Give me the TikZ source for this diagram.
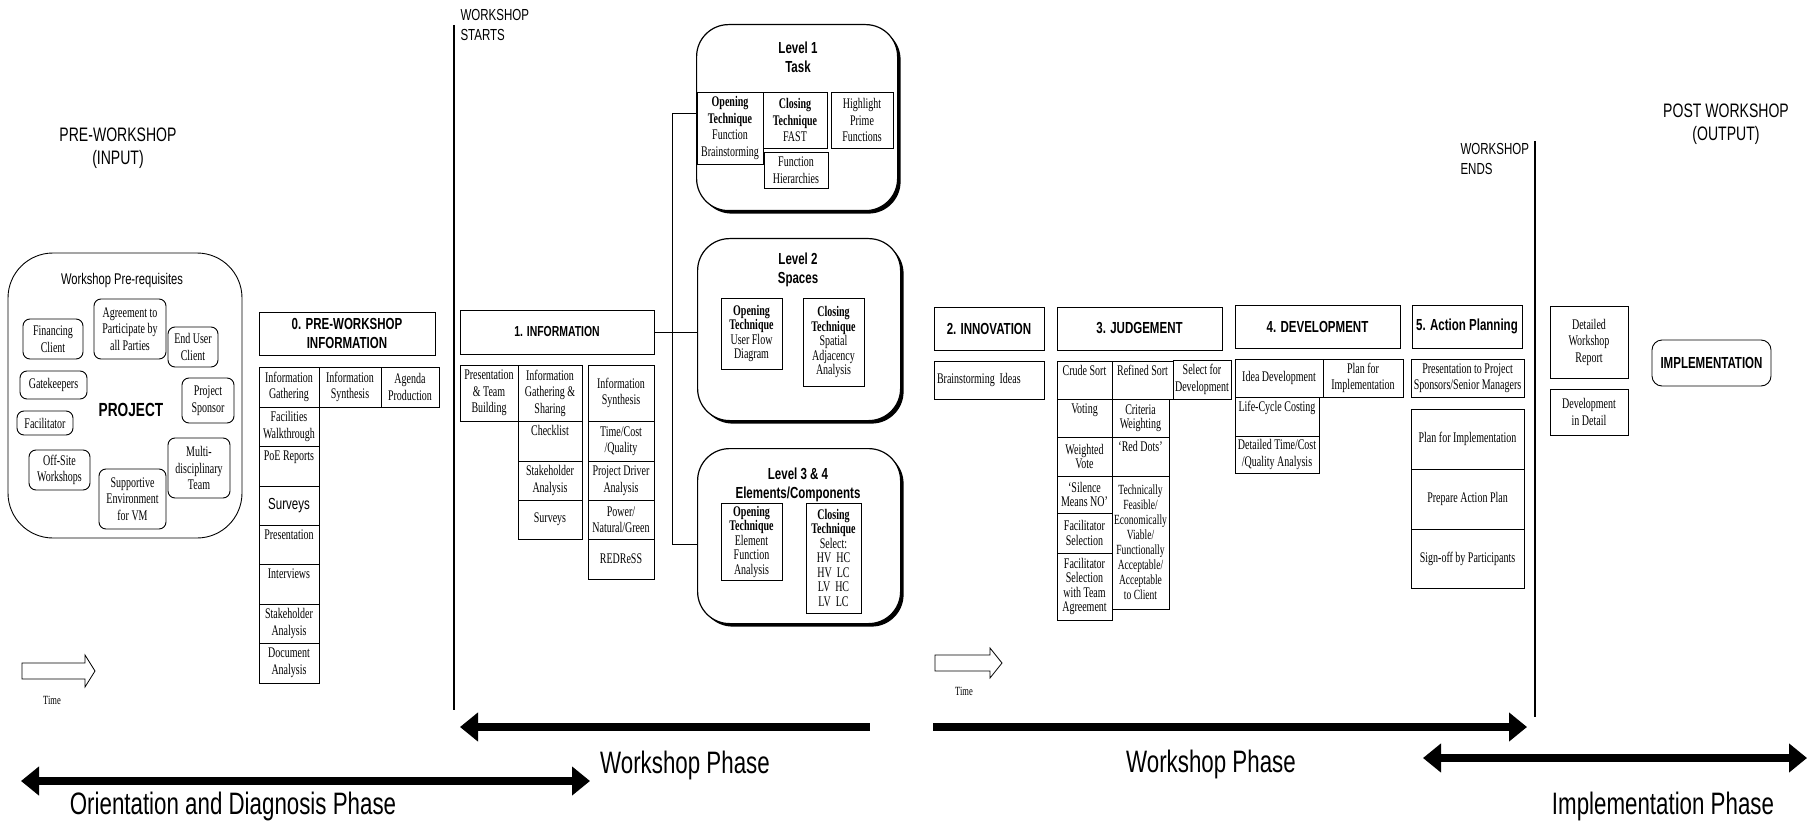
\documentclass[tikz,border=0pt]{standalone}
\usepackage{fontspec}
\setmainfont{Liberation Serif}[FakeStretch=0.68]
\setsansfont{Liberation Sans}[FakeStretch=0.72]
\usetikzlibrary{arrows.meta,shadows}

\tikzset{
  wh/.style 2 args={minimum width=#1pt, minimum height=#2pt},
  cellbox/.style={draw, line width=0.9pt, anchor=north west, align=center,
    inner sep=1pt, outer sep=0pt, font=\fontsize{14.7}{16.5}\selectfont},
  tight/.style={font=\fontsize{14.7}{14.5}\selectfont},
  topline/.style={text height=13pt, text depth=#1pt},
  stagehead/.style={cellbox, font=\sffamily\bfseries\fontsize{16}{19}\selectfont},
  req/.style={cellbox, rounded corners=7pt},
  lvbox/.style={draw, line width=1.2pt, anchor=north west, rounded corners=32pt,
    fill=white, drop shadow={shadow xshift=3pt, shadow yshift=-3pt, fill=black, opacity=1}},
  ltitle/.style={align=center, font=\sffamily\bfseries\fontsize{16}{19}\selectfont},
  stamp/.style={align=left, font=\sffamily\fontsize{16}{20}\selectfont},
  phase/.style={font=\sffamily\fontsize{31}{36}\selectfont},
  phasebar/.style={line width=8.5pt, >={Triangle[length=18pt, width=28pt]}},
}

\begin{document}
\begin{tikzpicture}[x=1pt, y=-1pt]
    \useasboundingbox (0,0) rectangle (1814,826);

    % Pre-workshop input
    \node[stamp, align=center, font=\sffamily\fontsize{19.5}{23}\selectfont] (pretitle) at (118,148) {PRE-WORKSHOP\\(INPUT)};
    \node[req, rounded corners=45pt, wh={234}{285}] (prereq) at (8,253) {};
    \node[font=\sffamily\fontsize{15.5}{18}\selectfont] (prereqt) at (122,280) {Workshop Pre-requisites};
    \node[font=\sffamily\bfseries\fontsize{19}{22}\selectfont] (project) at (131,410) {PROJECT};
    \node[req, wh={60}{40}] (fin) at (23,319) {Financing\\Client};
    \node[req, wh={72}{60}] (agr) at (94,299) {Agreement to\\Participate by\\all Parties};
    \node[req, wh={50}{40}] (endu) at (168,327) {End User\\Client};
    \node[req, wh={67}{28}] (gate) at (20,371) {Gatekeepers};
    \node[req, wh={56}{24}] (facil) at (17,411) {Facilitator};
    \node[req, wh={52}{45}] (spons) at (182,378) {Project\\Sponsor};
    \node[req, wh={62}{60}] (multi) at (168,438) {Multi-\\disciplinary\\Team};
    \node[req, wh={61}{40}] (offs) at (29,450) {Off-Site\\Workshops};
    \node[req, wh={67}{60}] (supp) at (99,469) {Supportive\\Environment\\for VM};

    % Time arrows
    \draw[line width=0.8pt] (22,663) -- (85,663) -- (85,655) -- (95,671) -- (85,687) -- (85,679) -- (22,679) -- cycle;
    \node[font=\fontsize{12.5}{14}\selectfont] (timeA) at (52,700) {Time};
    \draw[line width=0.8pt] (935,655) -- (990,655) -- (990,648) -- (1002,663) -- (990,678) -- (990,671) -- (935,671) -- cycle;
    \node[font=\fontsize{12.5}{14}\selectfont] (timeB) at (964,691) {Time};

    % 0. Pre-workshop information
    \node[stagehead, wh={176}{43}] (pre) at (259,312) {0. PRE-WORKSHOP\\INFORMATION};
    \node[cellbox, wh={60}{40}] (pgath) at (259,367) {Information\\Gathering};
    \node[cellbox, wh={62}{40}] (psyn) at (pgath.north east) {Information\\Synthesis};
    \node[cellbox, wh={58}{40}] (pagen) at (psyn.north east) {Agenda\\Production};
    \node[cellbox, wh={60}{39}] (pfac) at (pgath.south west) {Facilities\\Walkthrough};
    \node[cellbox, wh={60}{40}, topline=24] (ppoe) at (pfac.south west) {PoE Reports};
    \node[cellbox, wh={60}{39}, font=\sffamily\fontsize{16}{19}\selectfont] (psurv) at (ppoe.south west) {Surveys};
    \node[cellbox, wh={60}{39}, topline=23] (ppres) at (psurv.south west) {Presentation};
    \node[cellbox, wh={60}{40}, topline=24] (pint) at (ppres.south west) {Interviews};
    \node[cellbox, wh={60}{39}] (pstake) at (pint.south west) {Stakeholder\\Analysis};
    \node[cellbox, wh={60}{40}] (pdoc) at (pstake.south west) {Document\\Analysis};

    % Workshop starts / ends
    \node[stamp, anchor=north west] (wstart) at (457,6) {WORKSHOP\\STARTS};
    \draw[line width=2pt] (454,25) -- (454,710);
    \node[stamp, anchor=north west] (wend) at (1457,140) {WORKSHOP\\ENDS};
    \draw[line width=2pt] (1535,141) -- (1535,717);

    % 1. Information
    \node[stagehead, wh={194}{44}, font=\sffamily\bfseries\fontsize{14.5}{18}\selectfont] (info) at (460,310) {1. INFORMATION};
    \node[cellbox, wh={58}{56}] (ipres) at (460,365) {Presentation\\\& Team\\Building};
    \node[cellbox, wh={64}{56}] (igath) at (ipres.north east) {Information\\Gathering \&\\Sharing};
    \node[cellbox, wh={64}{40}, topline=24] (icheck) at (igath.south west) {Checklist};
    \node[cellbox, wh={64}{39}] (istake) at (icheck.south west) {Stakeholder\\Analysis};
    \node[cellbox, wh={64}{39}] (isurv) at (istake.south west) {Surveys};
    \node[cellbox, wh={66}{56}] (isyn) at (588,365) {Information\\Synthesis};
    \node[cellbox, wh={66}{40}] (itcq) at (isyn.south west) {Time/Cost\\/Quality};
    \node[cellbox, wh={66}{39}] (idriv) at (itcq.south west) {Project Driver\\Analysis};
    \node[cellbox, wh={66}{39}] (ipow) at (idriv.south west) {Power/\\Natural/Green};
    \node[cellbox, wh={66}{40}] (ired) at (ipow.south west) {REDReSS};

    % Levels
    \node[lvbox, wh={201}{186}] (lvA) at (696,24) {};
    \node[ltitle] (lvAt) at (798,57) {Level 1\\Task};
    \node[cellbox, wh={66}{72}] (lvAo) at (697,92) {\textbf{Opening}\\\textbf{Technique}\\Function\\Brainstorming};
    \node[cellbox, wh={64}{56}] (lvAc) at (lvAo.north east) {\textbf{Closing}\\\textbf{Technique}\\FAST};
    \node[cellbox, wh={62}{56}] (lvAp) at (831,92) {Highlight\\Prime\\Functions};
    \node[cellbox, wh={64}{36}] (lvAh) at (764,152) {Function\\Hierarchies};

    \node[lvbox, wh={203}{182}] (lvB) at (697,238) {};
    \node[ltitle] (lvBt) at (798,270) {Level 2\\Spaces};
    \node[cellbox, tight, wh={61}{71}] (lvBo) at (721,298) {\textbf{Opening}\\\textbf{Technique}\\User Flow\\Diagram};
    \node[cellbox, tight, wh={61}{88}] (lvBc) at (803,298) {\textbf{Closing}\\\textbf{Technique}\\Spatial\\Adjacency\\Analysis};

    \node[lvbox, wh={203}{175}] (lvC) at (697,448) {};
    \node[ltitle] (lvCt) at (798,485) {Level 3 \& 4\\Elements/Components};
    \node[cellbox, tight, wh={61}{77}] (lvCo) at (721,503) {\textbf{Opening}\\\textbf{Technique}\\Element\\Function\\Analysis};
    \node[cellbox, tight, wh={55}{110}] (lvCc) at (806,503) {\textbf{Closing}\\\textbf{Technique}\\Select:\\HV\ \ HC\\HV\ \ LC\\LV\ \ HC\\LV\ \ LC};

    % Information to levels
    \coordinate (busA) at (672,113);
    \coordinate (busC) at (672,544);
    \draw[line width=0.8pt] (lvAo.west |- busA) -- (busA) -- (busC) -- (busC -| lvC.west);
    \draw[line width=0.8pt] (info.east) -- (info.east -| lvB.west);

    % 2. Innovation
    \node[stagehead, wh={110}{43}] (inno) at (934,307) {2. INNOVATION};
    \node[cellbox, wh={110}{38}, align=left, text width=104pt] (ibrain) at (934,361) {Brainstorming Ideas};

    % 3. Judgement
    \node[stagehead, wh={165}{43}] (judg) at (1057,307) {3. JUDGEMENT};
    \node[cellbox, wh={55}{38}, topline=22] (jcrude) at (1057,361) {Crude Sort};
    \node[cellbox, wh={61}{38}, topline=22] (jref) at (jcrude.north east) {Refined Sort};
    \node[cellbox, wh={58}{39}] (jsel) at (1173,360) {Select for\\Development};
    \node[cellbox, wh={55}{38}, topline=22] (jvote) at (jcrude.south west) {Voting};
    \node[cellbox, tight, wh={57}{38}] (jcrit) at (jref.south west) {Criteria\\Weighting};
    \node[cellbox, tight, wh={55}{39}] (jwv) at (jvote.south west) {Weighted\\Vote};
    \node[cellbox, wh={57}{39}, topline=23] (jred) at (jcrit.south west) {`Red Dots'};
    \node[cellbox, tight, wh={55}{37}] (jsil) at (jwv.south west) {`Silence\\Means NO'};
    \node[cellbox, wh={57}{133}, font=\fontsize{14}{15}\selectfont] (jtech) at (jred.south west) {Technically\\Feasible/\\Economically\\Viable/\\Functionally\\Acceptable/\\Acceptable\\to Client};
    \node[cellbox, tight, wh={55}{40}] (jfac) at (jsil.south west) {Facilitator\\Selection};
    \node[cellbox, tight, wh={55}{67}] (jfteam) at (jfac.south west) {Facilitator\\Selection\\with Team\\Agreement};

    % 4. Development
    \node[stagehead, wh={165}{43}] (dev) at (1235,305) {4. DEVELOPMENT};
    \node[cellbox, wh={88}{38}] (didea) at (1235,359) {Idea Development};
    \node[cellbox, wh={80}{38}] (dplan) at (didea.north east) {Plan for\\Implementation};
    \node[cellbox, wh={84}{39}, topline=23] (dlcc) at (didea.south west) {Life-Cycle Costing};
    \node[cellbox, wh={84}{37}] (dtcq) at (dlcc.south west) {Detailed Time/Cost\\/Quality Analysis};

    % 5. Action planning
    \node[stagehead, wh={110}{43}] (act) at (1412,305) {5. Action Planning};
    \node[cellbox, wh={113}{38}] (apres) at (1411,359) {Presentation to Project\\Sponsors/Senior Managers};
    \node[cellbox, wh={113}{60}] (aplan) at (1411,409) {Plan for Implementation};
    \node[cellbox, wh={113}{60}] (aprep) at (aplan.south west) {Prepare Action Plan};
    \node[cellbox, wh={113}{59}] (asign) at (aprep.south west) {Sign-off by Participants};

    % Post workshop output
    \node[stamp, align=center, font=\sffamily\fontsize{19.5}{23}\selectfont] (posttitle) at (1726,124) {POST WORKSHOP\\(OUTPUT)};
    \node[cellbox, wh={78}{72}] (pdwr) at (1550,306) {Detailed\\Workshop\\Report};
    \node[cellbox, wh={78}{46}] (pdid) at (1550,389) {Development\\in Detail};
    \node[stagehead, rounded corners=10pt, wh={119}{46}] (impl) at (1652,340) {IMPLEMENTATION};

    % Phases
    \draw[phasebar, <->] (21,781) -- (590,781);
    \draw[phasebar, <-] (460,727) -- (870,727);
    \draw[phasebar, ->] (933,727) -- (1527,727);
    \draw[phasebar, <->] (1423,758) -- (1807,758);
    \node[phase] (pOD) at (233,806) {Orientation and Diagnosis Phase};
    \node[phase] (pWA) at (685,765) {Workshop Phase};
    \node[phase] (pWB) at (1211,764) {Workshop Phase};
    \node[phase] (pIM) at (1663,806) {Implementation Phase};
\end{tikzpicture}
\end{document}
